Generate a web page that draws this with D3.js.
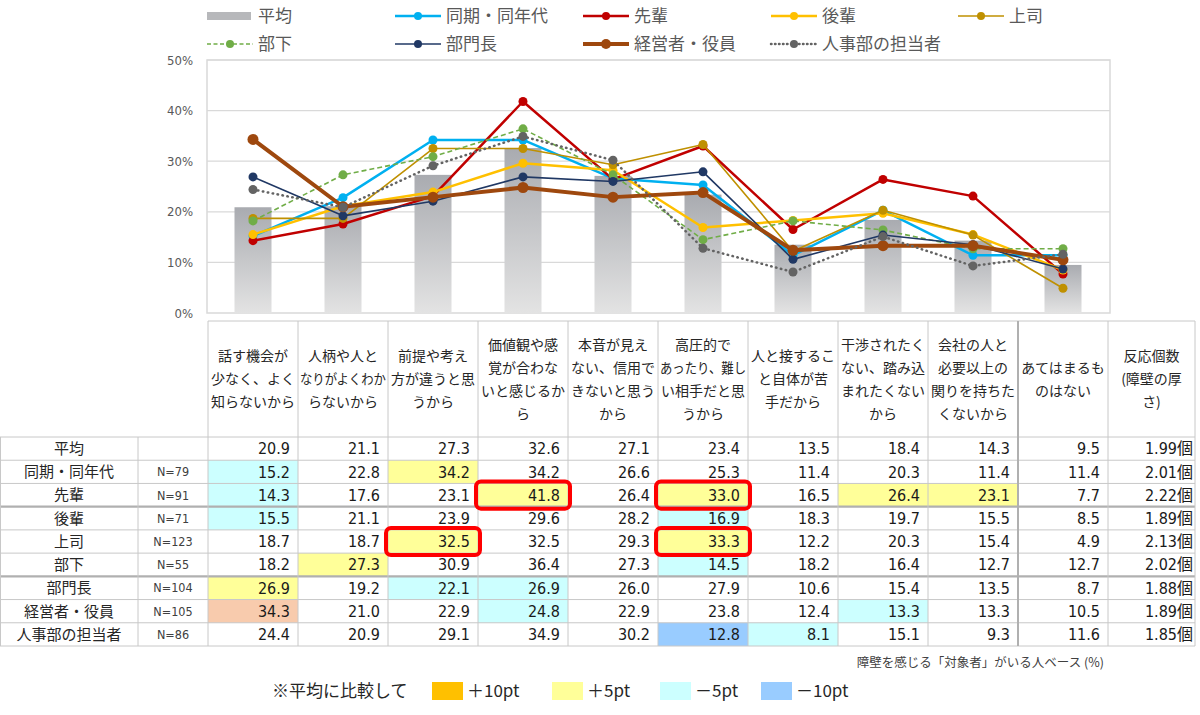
<!DOCTYPE html>
<html><head><meta charset="utf-8">
<script src="https://cdn.jsdelivr.net/npm/d3@7"></script>
<style>
body{margin:0;background:#fff;}
svg{display:block;}
.jp{font-family:"Noto Sans CJK JP","Noto Sans",sans-serif;}
.num{font-family:"DejaVu Sans Condensed","DejaVu Sans","Noto Sans CJK JP",sans-serif;font-stretch:condensed;}
</style></head>
<body>
<svg id="c" width="1200" height="715"></svg>
<script>
// ---------- data ----------
const categories = [
  ["話す機会が","少なく、よく","知らないから"],
  ["人柄や人と","なりがよくわか","らないから"],
  ["前提や考え","方が違うと思","うから"],
  ["価値観や感","覚が合わな","いと感じるか","ら"],
  ["本音が見え","ない、信用で","きないと思う","から"],
  ["高圧的で","あったり、難し","い相手だと思","うから"],
  ["人と接するこ","と自体が苦","手だから"],
  ["干渉されたく","ない、踏み込","まれたくない","から"],
  ["会社の人と","必要以上の","関りを持ちた","くないから"],
  ["あてはまるも","のはない"]
];
const countHeader = ["反応個数","(障壁の厚","さ)"];
const groups = ["平均","同期・同年代","先輩","後輩","上司","部下","部門長","経営者・役員","人事部の担当者"];
const nLabels = ["","N=79","N=91","N=71","N=123","N=55","N=104","N=105","N=86"];
const avgValues   = [20.9,21.1,27.3,32.6,27.1,23.4,13.5,18.4,14.3,9.5];
const doukiValues = [15.2,22.8,34.2,34.2,26.6,25.3,11.4,20.3,11.4,11.4];
const senpaiValues= [14.3,17.6,23.1,41.8,26.4,33.0,16.5,26.4,23.1,7.7];
const kouhaiValues= [15.5,21.1,23.9,29.6,28.2,16.9,18.3,19.7,15.5,8.5];
const joshiValues = [18.7,18.7,32.5,32.5,29.3,33.3,12.2,20.3,15.4,4.9];
const bukaValues  = [18.2,27.3,30.9,36.4,27.3,14.5,18.2,16.4,12.7,12.7];
const buchoValues = [26.9,19.2,22.1,26.9,26.0,27.9,10.6,15.4,13.5,8.7];
const keieiValues = [34.3,21.0,22.9,24.8,22.9,23.8,12.4,13.3,13.3,10.5];
const jinjiValues = [24.4,20.9,29.1,34.9,30.2,12.8,8.1,15.1,9.3,11.6];
const countValues = ["1.99個","2.01個","2.22個","1.89個","2.13個","2.02個","1.88個","1.89個","1.85個"];
const yTicks = [0,10,20,30,40,50];
// shading: [rowIndex, colIndex, level]
const shading = [
  [1,0,"m5"],[1,2,"p5"],
  [2,0,"m5"],[2,3,"p5"],[2,5,"p5"],[2,7,"p5"],[2,8,"p5"],
  [3,0,"m5"],[3,5,"m5"],
  [4,2,"p5"],[4,5,"p5"],
  [5,1,"p5"],[5,5,"m5"],
  [6,0,"p5"],[6,2,"m5"],[6,3,"m5"],
  [7,0,"p10"],[7,3,"m5"],[7,7,"m5"],
  [8,5,"m10"],[8,6,"m5"]
];
const redBoxes = [[2,3],[2,5],[4,2],[4,5]];
const legendKeys = [["p10","＋10pt"],["p5","＋5pt"],["m5","－5pt"],["m10","－10pt"]];

// ---------- styles ----------
const shadeColor = {p10:"#f8cbad", p5:"#ffff99", m5:"#ccffff", m10:"#99ccff"};
const legendShade = {p10:"#ffc000", p5:"#ffff99", m5:"#ccffff", m10:"#99ccff"};
const series = [
  {name:"同期・同年代", values:doukiValues, color:"#00b0f0", w:2.5, r:4.5, dash:null},
  {name:"先輩", values:senpaiValues, color:"#c00000", w:2.5, r:4.5, dash:null},
  {name:"後輩", values:kouhaiValues, color:"#ffc000", w:2.5, r:4.5, dash:null},
  {name:"上司", values:joshiValues, color:"#bf9000", w:1.6, r:4.5, dash:null},
  {name:"部下", values:bukaValues, color:"#70ad47", w:1.6, r:4.5, dash:"5,3"},
  {name:"部門長", values:buchoValues, color:"#203864", w:1.6, r:4.5, dash:null},
  {name:"経営者・役員", values:keieiValues, color:"#9e480e", w:4, r:5.5, dash:null},
  {name:"人事部の担当者", values:jinjiValues, color:"#636363", w:2.5, r:4.5, dash:"0.5,4.5", cap:"round"}
];

const svg = d3.select("#c");
const defs = svg.append("defs");
const g1 = defs.append("linearGradient").attr("id","barGrad").attr("x1",0).attr("y1",0).attr("x2",0).attr("y2",1);
g1.append("stop").attr("offset","0%").attr("stop-color","#a9abb0");
g1.append("stop").attr("offset","100%").attr("stop-color","#e3e3e3");

// ---------- scales ----------
const plotL = 207, plotR = 1110, plotT = 60, plotB = 313;
const x = d3.scaleBand().domain(d3.range(categories.length)).range([208,1108]).padding(0);
const y = d3.scaleLinear().domain([0,50]).range([plotB, plotT]);
const barW = 37;

// gridlines
svg.append("g").selectAll("line").data(yTicks.filter(d=>d>0)).join("line")
  .attr("x1",plotL).attr("x2",plotR).attr("y1",d=>y(d)).attr("y2",d=>y(d))
  .attr("stroke","#d9d9d9").attr("stroke-width",1.2);
svg.append("rect").attr("x",plotL).attr("y",plotT).attr("width",plotR-plotL).attr("height",plotB-plotT)
  .attr("fill","none").attr("stroke","#d9d9d9").attr("stroke-width",1.5);

// y axis
const yAxis = d3.axisLeft(y).tickValues(yTicks).tickFormat(d=>d+"%").tickSize(0).tickPadding(14);
const ya = svg.append("g").attr("transform",`translate(${plotL},0)`).call(yAxis);
ya.select(".domain").remove();
ya.selectAll("text").attr("class","num").attr("font-size",13).attr("fill","#595959");

// bars
svg.append("g").selectAll("rect").data(avgValues).join("rect")
  .attr("x",(d,i)=>x(i)+x.bandwidth()/2-barW/2).attr("width",barW)
  .attr("y",d=>y(d)).attr("height",d=>y(0)-y(d))
  .attr("fill","url(#barGrad)");

// lines
const line = d3.line().x((d,i)=>x(i)+x.bandwidth()/2).y(d=>y(d));
series.forEach(s=>{
  const g = svg.append("g");
  g.append("path").datum(s.values).attr("d",line).attr("fill","none")
    .attr("stroke",s.color).attr("stroke-width",s.w)
    .attr("stroke-dasharray",s.dash).attr("stroke-linecap",s.cap||"butt").attr("stroke-linejoin","round");
  g.selectAll("circle").data(s.values).join("circle")
    .attr("cx",(d,i)=>x(i)+x.bandwidth()/2).attr("cy",d=>y(d)).attr("r",s.r).attr("fill",s.color);
});

// ---------- chart legend ----------
const legendItems = [{name:"平均", bar:true}].concat(series);
const legCols = [207,395,583,771,958];
legendItems.forEach((s,i)=>{
  const row = i<5?0:1, col = i<5?i:i-5;
  const lx = legCols[col], ly = row===0?16:44;
  const g = svg.append("g");
  if(s.bar){
    g.append("rect").attr("x",lx).attr("y",ly-4).attr("width",44).attr("height",8).attr("fill","#b7b8bb");
  } else {
    g.append("line").attr("x1",lx).attr("x2",lx+46).attr("y1",ly).attr("y2",ly)
      .attr("stroke",s.color).attr("stroke-width",s.w).attr("stroke-dasharray",s.dash?(s.cap?"0.5,3.5":"4,2.5"):null)
      .attr("stroke-linecap",s.cap||"butt");
    g.append("circle").attr("cx",lx+23).attr("cy",ly).attr("r",s.r-0.5).attr("fill",s.color);
  }
  g.append("text").attr("class","jp").attr("x",lx+51).attr("y",ly).attr("dy","0.36em")
    .attr("font-size",17).attr("fill","#595959").text(s.name);
});

// ---------- table ----------
const tblTop = 321, hdrBot = 437, tblBot = 646, cntL = 1108, cntR = 1195;
const rowY = d3.scaleBand().domain(d3.range(groups.length)).range([hdrBot, tblBot]);
const gridC = "#c8c8c8";
const tg = svg.append("g");

// shading
tg.selectAll("rect.sh").data(shading).join("rect").attr("class","sh")
  .attr("x",d=>x(d[1])).attr("y",d=>rowY(d[0])).attr("width",x.bandwidth()).attr("height",rowY.bandwidth())
  .attr("fill",d=>shadeColor[d[2]]);

// horizontal lines
tg.append("line").attr("x1",208).attr("x2",cntR).attr("y1",tblTop).attr("y2",tblTop).attr("stroke",gridC);
d3.range(groups.length+1).forEach(i=>{
  const yy = i<groups.length?rowY(i):tblBot;
  const thick = (i===3||i===6);
  tg.append("line").attr("x1",0).attr("x2",cntR).attr("y1",yy).attr("y2",yy)
    .attr("stroke",thick?"#b0b0b0":gridC).attr("stroke-width",thick?2.2:1);
});
// vertical lines
const vx = d3.range(categories.length).map(i=>x(i)).concat([cntL,cntR]);
vx.forEach((xx,i)=>{
  tg.append("line").attr("x1",xx).attr("x2",xx).attr("y1",tblTop).attr("y2",tblBot)
    .attr("stroke",i===9?"#b0b0b0":gridC).attr("stroke-width",i===9?2:1);
});
tg.append("line").attr("x1",0.5).attr("x2",0.5).attr("y1",hdrBot).attr("y2",tblBot).attr("stroke",gridC);
tg.append("line").attr("x1",138).attr("x2",138).attr("y1",hdrBot).attr("y2",tblBot).attr("stroke",gridC);

// header texts
const hdrMid = (tblTop+hdrBot)/2;
const lh = 23;
function header(lines, cx, maxW){
  const n = lines.length;
  lines.forEach((t,j)=>{
    const tx = tg.append("text").attr("class","jp").attr("x",cx).attr("y",hdrMid+(j-(n-1)/2)*lh)
      .attr("dy","0.36em").attr("text-anchor","middle").attr("font-size",14).attr("fill","#262626").text(t);
    const w = tx.node().getComputedTextLength();
    if(w>maxW) tx.attr("textLength",maxW).attr("lengthAdjust","spacingAndGlyphs");
  });
}
categories.forEach((c,i)=>header(c, x(i)+x.bandwidth()/2, 86));
header(countHeader, (cntL+cntR)/2, 82);

// row labels
const rows = groups.map((gname,i)=>({gname, n:nLabels[i], i}));
tg.selectAll("text.rl").data(rows).join("text").attr("class","rl jp")
  .attr("x",69).attr("y",d=>rowY(d.i)+rowY.bandwidth()/2).attr("dy","0.36em").attr("text-anchor","middle")
  .attr("font-size",15).attr("fill","#262626").text(d=>d.gname);
tg.selectAll("text.nl").data(rows).join("text").attr("class","nl num")
  .attr("x",173).attr("y",d=>rowY(d.i)+rowY.bandwidth()/2).attr("dy","0.36em").attr("text-anchor","middle")
  .attr("font-size",12.5).attr("fill","#404040").text(d=>d.n);

// values
const allRows = [avgValues,doukiValues,senpaiValues,kouhaiValues,joshiValues,bukaValues,buchoValues,keieiValues,jinjiValues];
allRows.forEach((vals,ri)=>{
  tg.selectAll(null).data(vals).join("text").attr("class","num")
    .attr("x",(d,ci)=>x(ci)+x.bandwidth()-8).attr("y",rowY(ri)+rowY.bandwidth()/2).attr("dy","0.36em")
    .attr("text-anchor","end").attr("font-size",16).attr("fill","#1a1a1a").text(d=>d.toFixed(1));
});
tg.selectAll("text.cnt").data(countValues).join("text").attr("class","cnt num")
  .attr("x",cntR-2).attr("y",(d,i)=>rowY(i)+rowY.bandwidth()/2).attr("dy","0.36em")
  .attr("text-anchor","end").attr("font-size",16).attr("fill","#1a1a1a").text(d=>d);

// red boxes
tg.selectAll("rect.rb").data(redBoxes).join("rect").attr("class","rb")
  .attr("x",d=>x(d[1])-2).attr("y",d=>rowY(d[0])-2).attr("width",x.bandwidth()+4).attr("height",rowY.bandwidth()+4)
  .attr("rx",5).attr("fill","none").attr("stroke","#ff0000").attr("stroke-width",4);

// note
svg.append("text").attr("class","jp").attr("x",1104).attr("y",662).attr("dy","0.36em").attr("text-anchor","end")
  .attr("font-size",12.5).attr("fill","#404040").text("障壁を感じる「対象者」がいる人ベース (%)");

// bottom legend
const bl = svg.append("g");
bl.append("text").attr("class","jp").attr("x",272).attr("y",691).attr("dy","0.36em")
  .attr("font-size",17).attr("fill","#262626").text("※平均に比較して");
const blX = [432,552,660,761];
legendKeys.forEach((k,i)=>{
  bl.append("rect").attr("x",blX[i]).attr("y",682).attr("width",31).attr("height",18).attr("fill",legendShade[k[0]]);
  bl.append("text").attr("class","jp").attr("x",blX[i]+35).attr("y",691).attr("dy","0.36em")
    .attr("font-size",17).attr("fill","#262626").text(k[1]);
});
</script>
</body></html>
